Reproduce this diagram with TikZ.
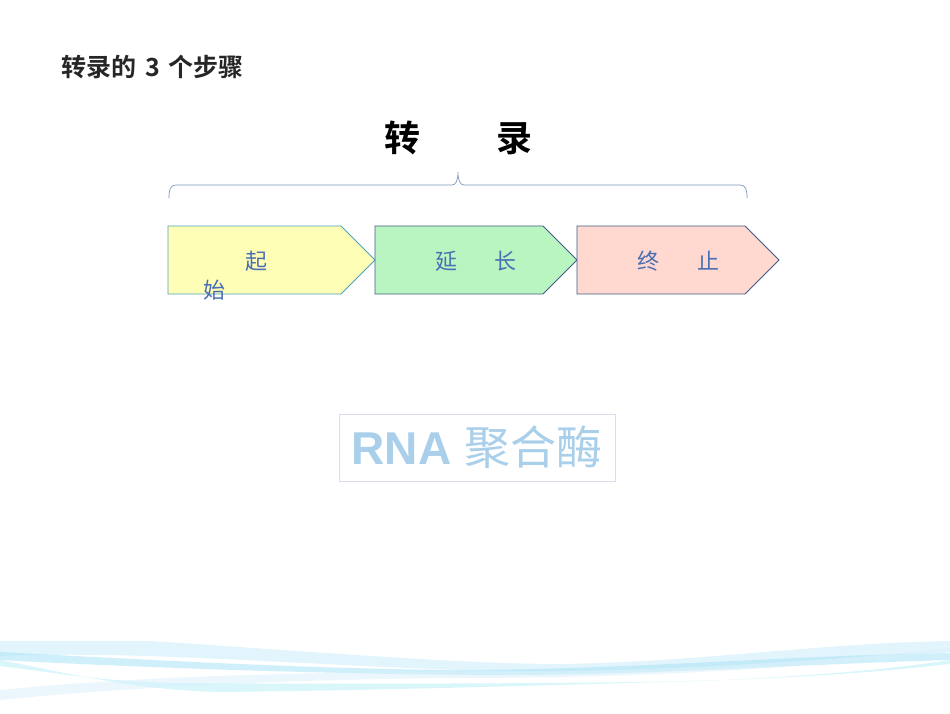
\documentclass[tikz,border=0pt]{standalone}
\usepackage{fontspec}
\setmainfont{Liberation Sans}
\newfontfamily\cjk{Noto Sans CJK SC}
\newfontfamily\cjkb{Noto Sans CJK SC Bold}
\definecolor{titlegray}{HTML}{262626}
\definecolor{stepblue}{HTML}{4A6EB4}
\definecolor{braceblue}{HTML}{7D97BF}
\definecolor{yfill}{HTML}{FEFEB6}
\definecolor{ystroke}{HTML}{4BA3C3}
\definecolor{gfill}{HTML}{B8F5C0}
\definecolor{pfill}{HTML}{FFD8D0}
\definecolor{dstroke}{HTML}{3F5C8C}
\definecolor{rnablue}{HTML}{A9CFEA}
\definecolor{rnabox}{HTML}{DCDCEE}
\definecolor{wave1}{HTML}{D8F1FB}
\definecolor{wave2}{HTML}{A9E2F7}
\definecolor{wave3}{HTML}{C9F3FA}
\begin{document}
\begin{tikzpicture}[x=1pt,y=-1pt,
  chev/.style={line width=0.9pt, line join=miter},
  steptext/.style={text=stepblue, font=\cjk\fontsize{22}{24}\selectfont, inner sep=0pt, anchor=center}]
\useasboundingbox (0,0) rectangle (950,713);
\fill[white] (0,0) rectangle (950,713);
% background waves
\fill[wave1, opacity=0.7] (0,641) -- (150,641) .. controls (320,652) and (460,664) .. (560,664) .. controls (700,662) and (820,643) .. (950,641) -- (950,652) .. controls (800,660) and (640,674) .. (500,671) .. controls (320,667) and (150,650) .. (0,656) -- cycle;
\fill[wave2, opacity=0.55] (0,652) .. controls (150,660) and (330,670) .. (480,670) .. controls (650,668) and (800,655) .. (950,653) -- (950,660) .. controls (800,664) and (640,676) .. (480,675) .. controls (330,674) and (150,668) .. (0,660) -- cycle;
\fill[wave3, opacity=0.7] (0,660) .. controls (80,676) and (140,690) .. (220,692) .. controls (400,690) and (550,685) .. (700,681) .. controls (820,676) and (900,668) .. (950,660) -- (950,664) .. controls (880,672) and (780,680) .. (640,682) .. controls (480,684) and (300,684) .. (170,683) .. controls (100,681) and (50,672) .. (0,666) -- cycle;
\fill[wave1, opacity=0.5] (0,690) .. controls (100,680) and (250,672) .. (450,672) .. controls (650,672) and (800,664) .. (950,648) -- (950,652) .. controls (800,668) and (650,678) .. (450,678) .. controls (250,680) and (100,690) .. (0,700) -- cycle;
% title
\node[anchor=west, text=titlegray, font=\cjkb\fontsize{25}{27}\selectfont, inner sep=0pt] (title) at (61,67) {转录的\hspace{9pt}3\hspace{9pt}个步骤};
\node[text=black, font=\cjkb\fontsize{36}{40}\selectfont, inner sep=0pt] (main) at (458.5,138) {转\hspace{76pt}录};
% brace
\coordinate (bl) at (169,198);
\coordinate (br) at (747,198);
\coordinate (bm) at (458,172);
\draw[braceblue, line width=0.7pt] (bl) .. controls (169,190) and (170,185) .. (176,185) -- (452,185) .. controls (456,185) and (458,180) .. (bm) .. controls (458,180) and (460,185) .. (464,185) -- (740,185) .. controls (746,185) and (747,190) .. (br);
% chevrons
\coordinate (a1) at (168,226); \coordinate (a2) at (341,226); \coordinate (a3) at (375,260); \coordinate (a4) at (341,294); \coordinate (a5) at (168,294);
\filldraw[chev, fill=yfill, draw=ystroke] (a1) -- (a2) -- (a3) -- (a4) -- (a5) -- cycle;
\coordinate (b1) at (375,226); \coordinate (b2) at (543,226); \coordinate (b3) at (577,260); \coordinate (b4) at (543,294); \coordinate (b5) at (375,294);
\filldraw[chev, fill=gfill, draw=dstroke] (b1) -- (b2) -- (b3) -- (b4) -- (b5) -- cycle;
\coordinate (c1) at (577,226); \coordinate (c2) at (745,226); \coordinate (c3) at (779,260); \coordinate (c4) at (745,294); \coordinate (c5) at (577,294);
\filldraw[chev, fill=pfill, draw=dstroke] (c1) -- (c2) -- (c3) -- (c4) -- (c5) -- cycle;
\node[steptext] (s1a) at (256,261) {起};
\node[steptext] (s1b) at (214,290) {始};
\node[steptext] (s2) at (476,261) {延\hspace{38pt}长};
\node[steptext] (s3) at (678,261) {终\hspace{38pt}止};
% RNA polymerase
\node[draw=rnabox, line width=0.7pt, minimum width=276pt, minimum height=67pt, inner sep=0pt, text=rnablue] (rna) at (477,447.5) {\fontsize{46}{50}\selectfont{\bfseries RNA} {\cjk\mdseries 聚合酶}};
\end{tikzpicture}
\end{document}
